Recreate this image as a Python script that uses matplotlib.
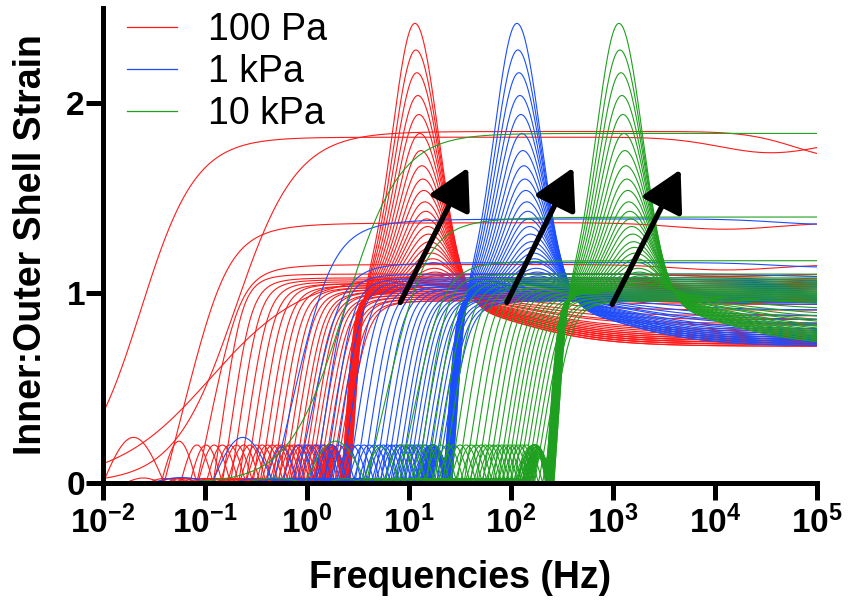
import numpy as np
import matplotlib
matplotlib.use('Agg')
import matplotlib.pyplot as plt
from matplotlib.lines import Line2D
from matplotlib.ticker import NullLocator

plt.rcParams['font.family'] = ['Liberation Sans', 'DejaVu Sans']
plt.rcParams['mathtext.fontset'] = 'custom'
plt.rcParams['mathtext.rm'] = 'Liberation Sans:bold'
plt.rcParams['mathtext.bf'] = 'Liberation Sans:bold'

groups = ['100 Pa', '1 kPa', '10 kPa']
colors = ['#ff1a1a', '#1a4dff', '#1f9f1f']
shift = [0, 1, 2]           # decades each stiffness moves the response
droop_at = [4.1, 5.1, 6.1]  # log10(Hz) of the high-frequency droop per group

# roll-ups to a plateau: zero crossing (log10 Hz, 100 Pa case) and plateau
steep_zero = [-0.92, -0.83, -0.75, -0.67, -0.60, -0.53, -0.46, -0.40, -0.34, -0.28,
              -0.23, -0.18, -0.13, -0.09, -0.05, -0.01, 0.03, 0.07, 0.11, 0.15,
              0.19, 0.23, 0.27, 0.31]
steep_top = [1.10, 1.08, 1.07, 1.06, 1.05, 1.05, 1.04, 1.04, 1.03, 1.03,
             1.02, 1.02, 1.01, 1.01, 1.00, 1.00, 0.99, 0.99, 0.98, 0.98,
             0.97, 0.97, 0.96, 0.96]

# resonant roll-ups: zero crossing, peak height, peak position, final level
peak_zero = [0.42, 0.42, 0.41, 0.41, 0.41, 0.40, 0.40, 0.40, 0.39, 0.39,
             0.39, 0.38, 0.38, 0.38, 0.37, 0.37, 0.37, 0.36, 0.36, 0.36,
             0.35, 0.35, 0.35, 0.34, 0.34]
peak_height = [2.42, 2.28, 2.16, 2.04, 1.94, 1.84, 1.75, 1.67, 1.60, 1.54,
               1.48, 1.43, 1.39, 1.35, 1.31, 1.27, 1.24, 1.21, 1.18, 1.16,
               1.13, 1.11, 1.09, 1.07, 1.05]
peak_pos = [1.06, 1.07, 1.08, 1.09, 1.10, 1.11, 1.12, 1.13, 1.14, 1.15,
            1.16, 1.17, 1.18, 1.19, 1.20, 1.21, 1.22, 1.23, 1.24, 1.25,
            1.26, 1.27, 1.28, 1.29, 1.30]
peak_final = [0.72, 0.72, 0.73, 0.73, 0.73, 0.74, 0.74, 0.74, 0.75, 0.75,
              0.75, 0.76, 0.76, 0.77, 0.77, 0.78, 0.79, 0.80, 0.81, 0.83,
              0.84, 0.86, 0.88, 0.91, 0.94]
peak_lobe_w = [0.40, 0.38, 0.36, 0.35, 0.33, 0.32, 0.30, 0.29, 0.28, 0.27,
               0.26, 0.25, 0.24, 0.23, 0.22, 0.21, 0.20, 0.19, 0.18, 0.17,
               0.16, 0.15, 0.14, 0.13, 0.12]
peak_lobe_h = [0.20, 0.20, 0.20, 0.20, 0.20, 0.19, 0.19, 0.19, 0.19, 0.19,
               0.18, 0.18, 0.18, 0.18, 0.17, 0.17, 0.17, 0.16, 0.16, 0.16,
               0.15, 0.15, 0.14, 0.14, 0.13]

# slow sigmoid roll-ups: group, mid-point, width, plateau, droop depth / centre
slow_group = [0, 0, 0, 2]
slow_mid = [-1.63, -0.70, -0.95, 0.37]
slow_width = [0.27, 0.30, 0.46, 0.27]
slow_top = [1.82, 1.85, 1.10, 1.84]
slow_droop = [0.045, 0.075, 0.01, 0.0]
slow_droop_at = [4.55, 5.3, 4.1, 6.0]

# early roll-ups with a leading lobe
early_group = [0, 0, 1, 1, 2, 2]
early_zero = [-1.40, -1.08, -0.33, -0.10, 0.58, 0.90]
early_top = [1.37, 1.15, 1.39, 1.16, 1.40, 1.17]
early_width = [0.65, 0.45, 0.60, 0.45, 0.60, 0.45]
early_lobe = [0.24, 0.22, 0.24, 0.19, 0.22, 0.19]
early_lobe_w = [0.60, 0.35, 0.60, 0.30, 0.60, 0.35]
early_droop = [0.025, 0.025, 0.02, 0.02, 0.0, 0.0]

arrow_tail_f = [8.2, 91, 980]
arrow_tail_y = [0.95, 0.95, 0.94]
arrow_tip_f = [38, 408, 4600]
arrow_tip_y = [1.66, 1.66, 1.65]


def logistic(x):
    return 1.0 / (1.0 + np.exp(-x))


def rise(t):
    t = np.clip(t, 0, None)
    return t / (1 + t ** 4) ** 0.25


def lobe(u, z, h, w):
    x = (u - z + w) / w
    main = np.where((x > 0) & (x < 1), h * np.sin(np.pi * x), 0.0)
    side = np.where((x > -1) & (x <= 0), 0.12 * h * np.sin(-np.pi * x), 0.0)
    return main + side


def droop(u, depth, centre, s=0.5):
    return 1 - depth * np.exp(-0.5 * ((u - centre) / s) ** 2)


u = np.linspace(-2.05, 5.05, 4000)
freq = 10 ** u

fig = plt.figure(figsize=(8.48, 6.09), dpi=100)
ax = fig.add_axes([103 / 848, 1 - 483 / 609, 714 / 848, 475 / 609])
lw = 0.8

for g, col in enumerate(colors):
    d = shift[g]
    for i in range(len(slow_group)):
        if slow_group[i] != g:
            continue
        y = slow_top[i] * logistic((u - slow_mid[i]) / slow_width[i])
        y = y * droop(u, slow_droop[i], slow_droop_at[i])
        ax.plot(freq, y, color=col, lw=lw)
    for i in range(len(early_group)):
        if early_group[i] != g:
            continue
        z = early_zero[i]
        y = early_top[i] * rise((u - z) / early_width[i]) * droop(u, early_droop[i], droop_at[g])
        y = y + lobe(u, z, early_lobe[i], early_lobe_w[i])
        ax.plot(freq, y, color=col, lw=lw)
    for z0, top in zip(steep_zero, steep_top):
        z = z0 + d
        y = top * rise((u - z) / 0.30) * droop(u, 0.012, droop_at[g])
        y = y + lobe(u, z, 0.20, 0.32)
        ax.plot(freq, y, color=col, lw=lw)
    for i in range(len(peak_zero)):
        z, c = peak_zero[i] + d, peak_pos[i] + d
        fin, h = peak_final[i], peak_height[i]
        level = fin + (1.0 - fin) * logistic(-(u - c - 0.9) / 0.45)
        level_c = fin + (1.0 - fin) * logistic(0.9 / 0.45)
        sig = np.where(u < c, 0.22, 0.23)
        base = level + (h - level_c) * np.exp(-0.5 * ((u - c) / sig) ** 2)
        y = rise((u - z) / 0.13) * base + lobe(u, z, peak_lobe_h[i], peak_lobe_w[i])
        ax.plot(freq, y, color=col, lw=lw)

for xt, yt, xh, yh in zip(arrow_tail_f, arrow_tail_y, arrow_tip_f, arrow_tip_y):
    ax.annotate('', xy=(xh, yh), xytext=(xt, yt),
                arrowprops=dict(arrowstyle='-|>,head_length=0.4,head_width=0.22',
                                mutation_scale=62, lw=3.8, color='black',
                                shrinkA=0, shrinkB=0))

ax.set_xscale('log')
ax.set_xlim(1e-2, 1e5)
ax.set_ylim(0, 2.5)
for side in ['top', 'right']:
    ax.spines[side].set_visible(False)
for side in ['left', 'bottom']:
    ax.spines[side].set_linewidth(3.6)

exps = list(range(-2, 6))
ax.set_xticks([10.0 ** k for k in exps])
ax.set_xticklabels([r'$\mathbf{10^{%d}}$' % k for k in exps])
ax.xaxis.set_minor_locator(NullLocator())
ax.set_yticks([0, 1, 2])
ax.set_yticklabels(['0', '1', '2'], fontweight='bold')
ax.tick_params(width=3.6, length=12, labelsize=24)
ax.tick_params(axis='x', pad=4)
ax.tick_params(axis='y', pad=1)

fig.text(460 / 848, 1 - 578 / 609, 'Frequencies (Hz)', ha='center', va='center',
         fontsize=27, fontweight='bold')
fig.text(31 / 848, 1 - 245 / 609, 'Inner:Outer Shell Strain', ha='center', va='center',
         rotation=90, fontsize=27, fontweight='bold')

handles = [Line2D([], [], color=c, lw=0.9) for c in colors]
ax.legend(handles, groups, loc='upper left', bbox_to_anchor=(127 / 848, 1 - 12 / 609),
          bbox_transform=fig.transFigure, frameon=False, fontsize=27, borderpad=0,
          borderaxespad=0, handlelength=1.33, handletextpad=0.83, labelspacing=0.16)

fig.savefig('out.png', dpi=100)
